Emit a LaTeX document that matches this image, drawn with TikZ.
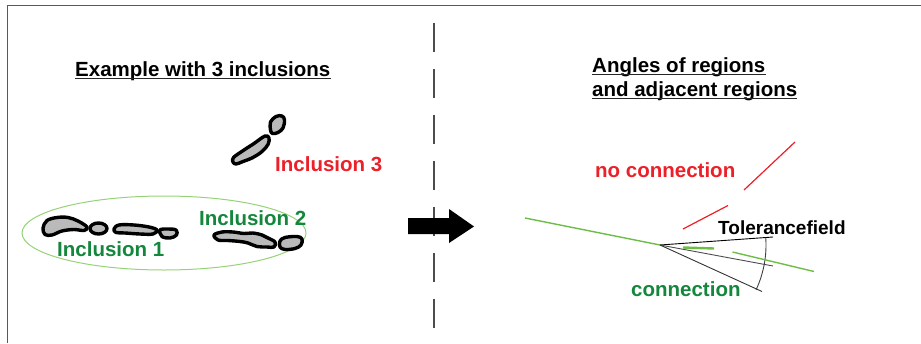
\documentclass[tikz,border=0pt]{standalone}
\usepackage{fontspec}
\setmainfont{Liberation Sans}
\begin{document}
\begin{tikzpicture}[x=1pt,y=-1pt,
  lbl/.style={inner sep=0pt,anchor=base west,font=\fontsize{20.5}{24}\selectfont\bfseries},
  blob/.style={draw=black,line width=3.4pt,fill=black!27,line join=round},
  ulin/.style={line width=1.2pt,black!85},
  frame/.style={line width=1.5pt,black!65},
  sep/.style={line width=1.4pt,black!70,dash pattern=on 29pt off 17pt},
  thinl/.style={line width=0.9pt,black},
  grnl/.style={line width=1.4pt,lgreen},
  redl/.style={line width=1.2pt,nred}]
\definecolor{nred}{RGB}{236,32,40}
\definecolor{dgreen}{RGB}{20,135,60}
\definecolor{lgreen}{RGB}{110,190,70}
\definecolor{egreen}{RGB}{150,210,120}
\useasboundingbox (0,0) rectangle (921,343);
% frame
\draw[frame] (7.5,343) -- (7.5,5.5) -- (921,5.5);
% separator
\draw[sep] (434,23) -- (434,343);
% arrow
\fill[black] (408,218) -- (449,218) -- (449,209) -- (474,226.5) -- (449,243) -- (449,234) -- (408,234) -- cycle;

% titles
\node[lbl] (t1) at (75,76) {Example with 3 inclusions};
\draw[ulin] ([yshift=-2.8pt]t1.base west) -- ([yshift=-2.8pt]t1.base east);
\node[lbl] (t2) at (592,72) {Angles of regions};
\draw[ulin] ([yshift=-2.2pt]t2.base west) -- ([yshift=-2.2pt]t2.base east);
\node[lbl] (t3) at (592,96) {and adjacent regions};
\draw[ulin] ([yshift=-2.5pt]t3.base west) -- ([yshift=-2.5pt]t3.base east);

% group ellipse
\draw[egreen,line width=1pt] (164,233) ellipse [x radius=142,y radius=37];

% inclusion 1
\draw[blob] plot[smooth cycle,tension=0.6] coordinates {(43,228) (47,220.5) (57,217.5) (68,217.5) (78,221) (87,227) (84,230.5) (74,229.5) (62,231) (52,235) (45,234.5)};
\draw[blob] (98.5,228.5) ellipse [x radius=8.5,y radius=5.5];
\draw[blob] plot[smooth cycle,tension=0.6] coordinates {(114,229) (119,225) (134,225) (149,227) (157,230) (153,234) (140,234) (125,233) (116,232.5)};
\draw[blob] plot[smooth cycle,tension=0.6] coordinates {(160,230) (168,229) (176,230) (176.5,235) (170,238) (162,236.5)};
% inclusion 2
\draw[blob] plot[smooth cycle,tension=0.6] coordinates {(214,235) (222,232) (233,232) (244,233.5) (253,233) (262,235) (268,238) (275,242) (274,247) (267,247) (257,246.5) (248,243) (240,241.5) (228,240.5) (218,240)};
\draw[blob] plot[smooth cycle,tension=0.6] coordinates {(280,241) (285,237.5) (297,236.5) (302,239) (301,245) (295,248.5) (285,249.5) (280,247)};
% inclusion 3
\draw[blob] plot[smooth cycle,tension=0.6] coordinates {(233.5,157.5) (244,150) (254,143.5) (265,136) (269,138) (268,144.5) (262,151.5) (253,157.5) (243,161.5) (236,164) (233,162)};
\draw[blob] plot[smooth cycle,tension=0.6] coordinates {(270.5,130) (270.5,122) (276,116.5) (282,116) (284.5,120) (283,128) (278,132.5) (272.5,133.5)};

% inclusion labels
\node[lbl,text=nred] (i3) at (275,171.7) {Inclusion 3};
\node[lbl,text=dgreen] (i2) at (199,225) {Inclusion 2};
\node[lbl,text=dgreen] (i1) at (57,256.5) {Inclusion 1};

% angles and tolerance field
\coordinate (v) at (660,245);
\coordinate (gs) at (525,218);
\coordinate (up) at (773,237);
\coordinate (mid) at (773,266);
\coordinate (lo) at (762,291.5);
\draw[grnl] (gs) -- (v);
\draw[thinl] (v) -- (up);
\draw[thinl,black!70] (v) -- (mid);
\draw[thinl,black!80] (v) -- (lo);
\draw[thinl,black!75] (v) ++(-4:106) arc[start angle=-4,end angle=25,radius=106];
\coordinate (g1a) at (683,247.5);
\coordinate (g1b) at (714,248.5);
\draw[lgreen,line width=2.4pt] (g1a) -- (g1b);
\coordinate (g2a) at (732.5,252);
\coordinate (g2b) at (814,271.5);
\draw[grnl] (g2a) -- (g2b);
\coordinate (r1a) at (683,229);
\coordinate (r1b) at (728,205.5);
\draw[redl] (r1a) -- (r1b);
\coordinate (r2a) at (744,190);
\coordinate (r2b) at (795,142);
\draw[redl] (r2a) -- (r2b);

\node[lbl,text=nred] (nc) at (595,177.5) {no connection};
\node[lbl,font=\fontsize{19}{22}\selectfont\bfseries] (tf) at (718,234) {Tolerancefield};
\node[lbl,text=dgreen] (cn) at (631,296.5) {connection};
\end{tikzpicture}
\end{document}
